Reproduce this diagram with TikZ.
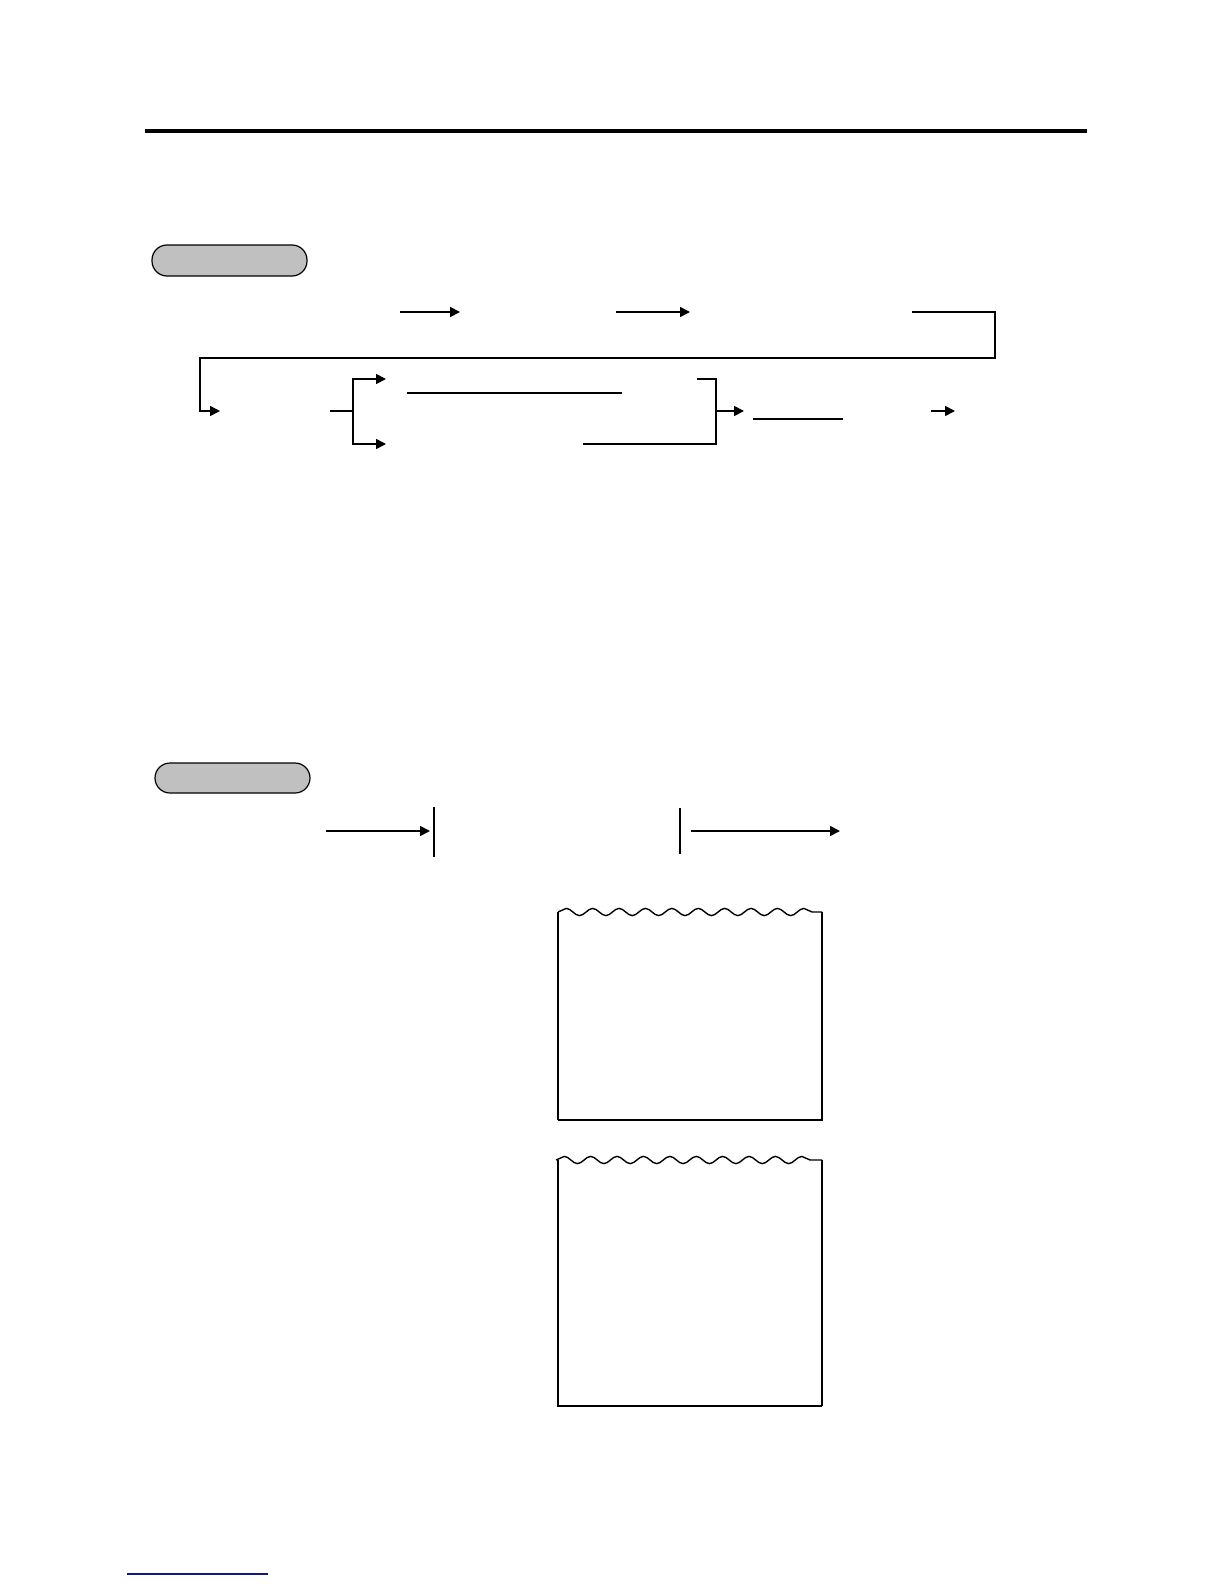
\documentclass[tikz,border=0pt]{standalone}
\usetikzlibrary{arrows.meta, decorations.pathmorphing}
\definecolor{keygray}{RGB}{192, 192, 192}
\definecolor{linkblue}{RGB}{20, 20, 140}

\tikzset{
  flow/.style = {line width=0.8pt, -{Triangle[length=5pt, width=5pt]}},
  plain/.style = {line width=0.8pt},
  heavy/.style = {line width=1.3pt},
  keypill/.style = {draw, line width=0.6pt, fill=keygray, rounded corners=7.5pt},
  tear/.style = {decorate, decoration={snake, segment length=13.2pt, amplitude=1.8pt}, line width=0.7pt}
}

\begin{document}
\begin{tikzpicture}[x=0.5pt, y=-0.5pt]
    \useasboundingbox (0,0) rectangle (1224,1584);

    \draw [line width=2pt] (145,131) -- (1087,131);

    % first procedure
    \draw [keypill] (152,245) rectangle (307,276);

    \coordinate (a1) at (400,312);
    \coordinate (a2) at (616,312);
    \coordinate (a3) at (912,312);
    \draw [flow] (a1) -- (460,312);
    \draw [flow] (a2) -- (690,312);
    \draw [flow] (a3) -- (995,312) -- (995,358) -- (200,358) -- (200,411) -- (220,411);

    \coordinate (fork) at (353,411);
    \draw [heavy] (330,411) -- (fork);
    \draw [flow] (fork) |- (386,379);
    \draw [flow] (fork) |- (386,444);
    \draw [plain] (407,393) -- (622,393);

    \coordinate (join) at (716,411);
    \draw [plain] (697,379) -| (join);
    \draw [heavy] (583,444) -| (join);
    \draw [flow] (join) -- (744,411);
    \draw [heavy] (753,419) -- (843,419);
    \draw [flow] (931,411) -- (955,411);

    % second procedure
    \draw [keypill] (155,763) rectangle (310,793);

    \draw [flow] (326,831) -- (430,831);
    \draw [heavy] (434,807) -- (434,857);
    \draw [plain] (680,808) -- (680,854);
    \draw [flow] (691,831) -- (840,831);

    % receipts
    \draw [tear] (558,912) -- (822,912);
    \draw [heavy] (558,912) -- (558,1120);
    \draw [plain] (558,1120) -- (822,1120) -- (822,912);

    \draw [tear] (556,1160) -- (822,1160);
    \draw [plain] (558,1160) -- (558,1406) -- (822,1406);
    \draw [heavy] (822,1406) -- (822,1160);

    \draw [line width=0.8pt, linkblue] (127,1574) -- (268,1574);
  \end{tikzpicture}
\end{document}
